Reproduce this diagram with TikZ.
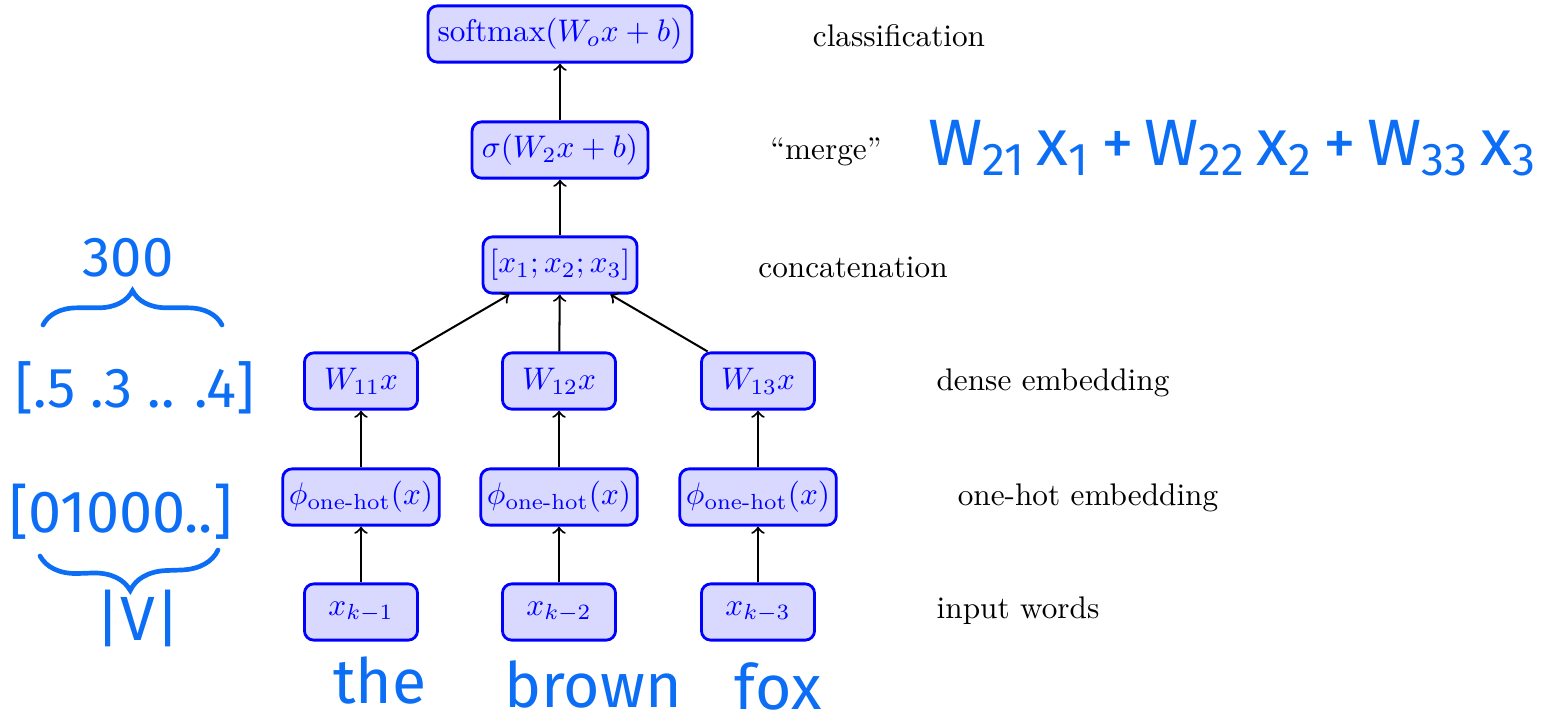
\documentclass[tikz,border=0pt]{standalone}
\usepackage{amsmath}
\usepackage{fontspec}
\newfontfamily\hand{Fira Sans}
\usetikzlibrary{decorations.pathreplacing}
\definecolor{hand}{RGB}{12,110,245}
\begin{document}
\begin{tikzpicture}[x=0.32pt,y=-0.32pt,
  nn/.style={draw=blue, fill=blue!15, text=blue, line width=0.9pt, rounded corners=3pt,
             minimum height=18pt, inner xsep=2pt, inner ysep=0pt},
  sq/.style={nn, minimum width=36.2pt},
  ph/.style={nn, minimum width=49.6pt},
  lab/.style={text=black, inner sep=0pt, anchor=base},
  arr/.style={->, line width=0.65pt},
  hw/.style={text=hand, inner sep=0pt},
  hbrace/.style={draw=hand, line width=1.5pt, line cap=round, decorate},
]
\useasboundingbox (0,0) rectangle (1567,727);

% network nodes
\node[nn, minimum width=84.5pt] (sm) at (560,34) {softmax$(W_ox+b)$};
\node[nn, minimum width=56.3pt] (sg) at (560,150) {$\sigma(W_2x+b)$};
\node[nn, minimum width=49.3pt] (cat) at (560,265) {$[x_1;x_2;x_3]$};

\node[sq] (w1) at (361,381) {$W_{11}x$};
\node[sq] (w2) at (559,381) {$W_{12}x$};
\node[sq] (w3) at (758,381) {$W_{13}x$};

\node[ph] (p1) at (361,497) {$\phi_{\text{one-hot}}(x)$};
\node[ph] (p2) at (559,497) {$\phi_{\text{one-hot}}(x)$};
\node[ph] (p3) at (758,497) {$\phi_{\text{one-hot}}(x)$};

\node[sq] (x1) at (361,612) {$x_{k-1}$};
\node[sq] (x2) at (559,612) {$x_{k-2}$};
\node[sq] (x3) at (758,612) {$x_{k-3}$};

% connectors
\draw[arr] (x1) -- (p1);
\draw[arr] (x2) -- (p2);
\draw[arr] (x3) -- (p3);
\draw[arr] (p1) -- (w1);
\draw[arr] (p2) -- (w2);
\draw[arr] (p3) -- (w3);
\draw[arr] (w1) -- (cat);
\draw[arr] (w2) -- (cat);
\draw[arr] (w3) -- (cat);
\draw[arr] (cat) -- (sg);
\draw[arr] (sg) -- (sm);

% layer labels
\node[lab] (l1) at (899,46) {classification};
\node[lab] (l2) at (826,159) {``merge''};
\node[lab] (l3) at (853,277) {concatenation};
\node[lab] (l4) at (1053,390) {dense embedding};
\node[lab] (l5) at (1088,505) {one-hot embedding};
\node[lab] (l6) at (1018,618) {input words};

% handwritten annotations
\node[hw, font=\hand\fontsize{21}{26}\selectfont, anchor=west] (eq) at (928,148)
  {W\textsubscript{21}\,x\textsubscript{1}\,+\,W\textsubscript{22}\,x\textsubscript{2}\,+\,W\textsubscript{33}\,x\textsubscript{3}};

\node[hw, font=\hand\fontsize{18}{20}\selectfont] (n300) at (128,258) {300};
\coordinate (b1l) at (43,325);
\coordinate (b1r) at (222,325);
\draw[hbrace, decoration={brace, amplitude=11pt}] (b1l) -- (b1r);
\node[hw, font=\hand\fontsize{18}{22}\selectfont] (vec) at (135,388) {[.5 .3 .. .4]};

\node[hw, font=\hand\fontsize{19}{22}\selectfont] (oh) at (121,512) {[01000..]};
\coordinate (b2r) at (218,550);
\coordinate (b2l) at (40,556);
\draw[hbrace, decoration={brace, amplitude=12pt}] (b2r) -- (b2l);
\node[hw, font=\hand\fontsize{20}{24}\selectfont] (V) at (138,618) {|V|};

\node[hw, font=\hand\fontsize{20}{24}\selectfont] (the) at (380,680) {the};
\node[hw, font=\hand\fontsize{20}{24}\selectfont] (brown) at (593,684) {brown};
\node[hw, font=\hand\fontsize{20}{24}\selectfont] (fox) at (778,686) {fox};
\end{tikzpicture}
\end{document}
